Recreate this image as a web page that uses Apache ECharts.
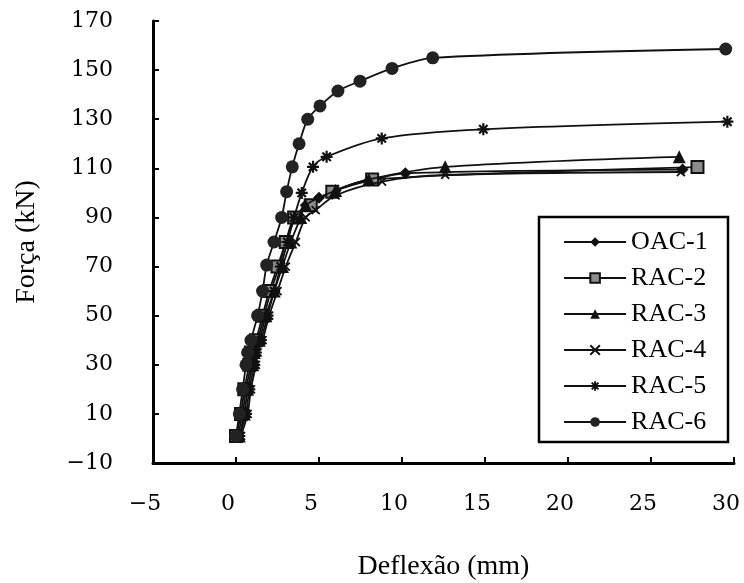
<!DOCTYPE html>
<html>
<head>
<meta charset="utf-8">
<script src="https://cdn.jsdelivr.net/npm/echarts@6/dist/echarts.min.js"></script>
<style>
html,body{margin:0;padding:0;background:#fff;}
#chart{width:744px;height:583px;}
</style>
</head>
<body>
<div id="chart"></div>
<script>
// Data (deflection mm, force kN)
const seriesNames = ['OAC-1', 'RAC-2', 'RAC-3', 'RAC-4', 'RAC-5', 'RAC-6'];

const oac1 = [[0.1,1],[0.4,10],[0.6,20],[0.9,30],[1.0,35],[1.3,40],[1.7,50],[2.1,60],[2.6,70],[3.0,80],[3.6,90],[4.2,95],[5.0,98],[6.0,101],[8.0,105],[10.2,108],[26.9,109.5]];
const rac2 = [[0.0,1],[0.3,10],[0.5,20],[0.8,30],[0.9,35],[1.2,40],[1.6,50],[2.0,60],[2.5,70],[3.0,80],[3.5,90],[4.5,95],[5.8,100.5],[8.2,105.5],[27.8,110.5]];
const rac3 = [[0.2,1],[0.5,10],[0.7,20],[1.0,30],[1.1,35],[1.4,40],[1.8,50],[2.3,60],[2.8,70],[3.3,80],[3.9,90],[4.2,95],[6.0,101],[8.0,105.5],[12.6,110.6],[26.7,114.7]];
const rac4 = [[0.3,1],[0.7,10],[0.9,20],[1.2,30],[1.3,35],[1.6,40],[2.0,50],[2.5,60],[3.0,70],[3.6,80],[4.2,90],[4.8,93],[6.0,99],[8.8,104.6],[12.6,107.3],[26.8,108.5]];
const rac5 = [[0.2,1],[0.6,10],[0.8,20],[1.1,30],[1.2,35],[1.5,40],[1.9,50],[2.3,60],[2.7,70],[3.1,80],[3.5,90],[3.96,100],[4.64,110.6],[5.46,114.7],[8.78,122.2],[14.9,125.9],[29.6,129]];
const rac6 = [[0.0,1],[0.2,10],[0.4,20],[0.6,30],[0.7,35],[0.9,40],[1.3,50],[1.6,60],[1.85,70.6],[2.29,80],[2.75,90],[3.05,100.5],[3.39,110.6],[3.8,120],[4.32,130],[5.06,135.4],[6.14,141.5],[7.47,145.5],[9.4,150.7],[11.85,155],[29.5,158.6]];

const xMin = -5, xMax = 30, xStep = 5;
const yMin = -10, yMax = 170, yStep = 20;
const xTitle = 'Deflexão (mm)';
const yTitle = 'Força (kN)';

const seriesData = [oac1, rac2, rac3, rac4, rac5, rac6];

const ink = '#111';
const xPath = 'path://M0,0 L10,10 M10,0 L0,10';
const starPath = 'path://M5,0 L5,10 M0,5 L10,5 M1.5,1.5 L8.5,8.5 M8.5,1.5 L1.5,8.5';

const markerStyles = [
  {symbol: 'diamond', symbolSize: 12, itemStyle: {color: ink}},
  {symbol: 'rect', symbolSize: 12, itemStyle: {color: '#8c8c8c', borderColor: ink, borderWidth: 2}},
  {symbol: 'triangle', symbolSize: 13, itemStyle: {color: ink}},
  {symbol: xPath, symbolSize: 8, itemStyle: {color: 'rgba(0,0,0,0)', borderColor: ink, borderWidth: 1.8}},
  {symbol: starPath, symbolSize: 12, itemStyle: {color: 'rgba(0,0,0,0)', borderColor: ink, borderWidth: 2.2}},
  {symbol: 'circle', symbolSize: 13, itemStyle: {color: '#222'}}
];

const minus = v => String(v).replace('-', '\u2212');

const chart = echarts.init(document.getElementById('chart'), null, {renderer: 'canvas'});
chart.setOption({
  animation: false,
  backgroundColor: '#fff',
  grid: {left: 153, right: 10, top: 21, bottom: 120, outerBoundsMode: 'none', containLabel: false},
  xAxis: {
    type: 'value', min: xMin, max: xMax, interval: xStep,
    name: xTitle, nameLocation: 'middle', nameGap: 90,
    nameTextStyle: {fontFamily: 'Liberation Serif', fontSize: 28, color: '#000'},
    axisLine: {show: true, onZero: false, lineStyle: {color: '#000', width: 3}},
    axisTick: {show: true, inside: true, length: 6, lineStyle: {color: '#000', width: 2}},
    axisLabel: {margin: 30, fontFamily: 'DejaVu Serif', fontSize: 22, color: '#000', padding: [0, 16, 0, 0], formatter: minus},
    splitLine: {show: false}
  },
  yAxis: {
    type: 'value', min: yMin, max: yMax, interval: yStep,
    name: yTitle, nameLocation: 'middle', nameGap: 112,
    nameTextStyle: {fontFamily: 'Liberation Serif', fontSize: 28, color: '#000'},
    axisLine: {show: true, onZero: false, lineStyle: {color: '#000', width: 3}},
    axisTick: {show: true, inside: true, length: 6, lineStyle: {color: '#000', width: 2}},
    axisLabel: {margin: 40, fontFamily: 'DejaVu Serif', fontSize: 22, color: '#000', formatter: minus},
    splitLine: {show: false}
  },
  graphic: [{
    type: 'rect',
    shape: {x: 539, y: 217, width: 189, height: 225},
    style: {fill: '#fff', stroke: '#000', lineWidth: 2.5},
    z: 50
  }],
  legend: {
    data: seriesNames,
    orient: 'vertical',
    left: 563, top: 229,
    padding: 0,
    itemGap: 10,
    itemWidth: 62, itemHeight: 12,
    lineStyle: {width: 2.2},
    textStyle: {fontFamily: 'Liberation Serif', fontSize: 26, color: '#000'},
    z: 60
  },
  series: seriesNames.map((name, i) => Object.assign({
    name: name,
    type: 'line',
    data: seriesData[i],
    smooth: 0.3,
    showSymbol: true,
    lineStyle: {color: ink, width: 1.8},
    z: 2 + i
  }, markerStyles[i]))
});
</script>
</body>
</html>
